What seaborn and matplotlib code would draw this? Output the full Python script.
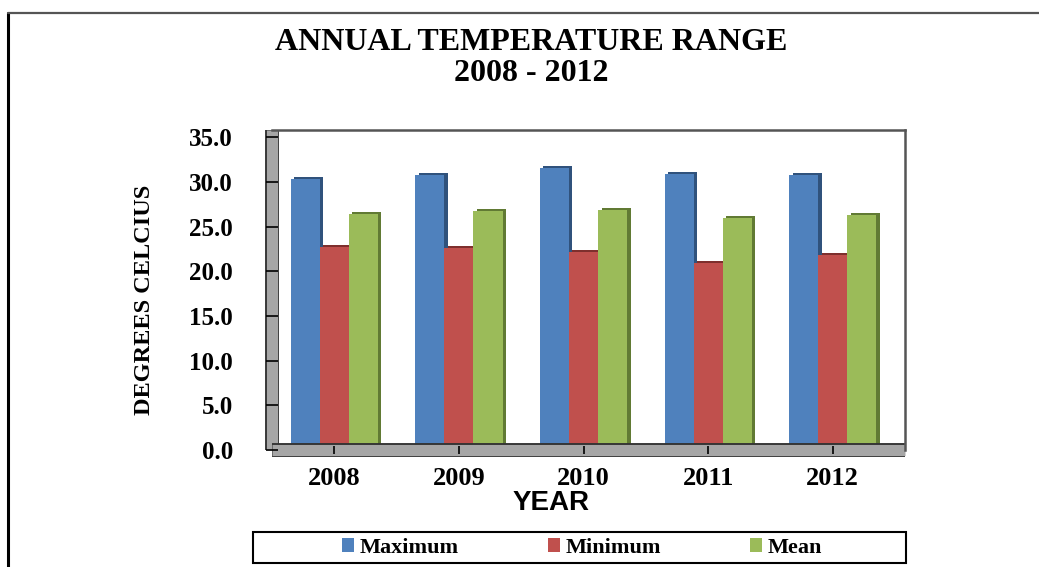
import matplotlib
matplotlib.use("Agg")
import matplotlib.pyplot as plt
import matplotlib.patheffects as pe
from matplotlib.patches import Patch, Rectangle
from matplotlib.lines import Line2D
import seaborn as sns
import pandas as pd

years = ["2008", "2009", "2010", "2011", "2012"]
maximum = [30.3, 30.8, 31.5, 30.9, 30.8]
minimum = [22.7, 22.6, 22.1, 20.9, 21.8]
mean = [26.4, 26.7, 26.8, 25.9, 26.3]
series_names = ["Maximum", "Minimum", "Mean"]
yticks = [0, 5, 10, 15, 20, 25, 30, 35]

colors = {"Maximum": "#4F81BD", "Minimum": "#C0504D", "Mean": "#9BBB59"}
shadow = {"Maximum": "#30527c", "Minimum": "#7e2f2d", "Mean": "#617a34"}

df = pd.DataFrame({
    "Year": years * 3,
    "Series": ["Maximum"] * 5 + ["Minimum"] * 5 + ["Mean"] * 5,
    "Value": maximum + minimum + mean,
})

sns.set_theme(style="white")
plt.rcParams["font.family"] = ["Liberation Serif", "DejaVu Serif"]
plt.rcParams["text.color"] = "black"
plt.rcParams["axes.labelcolor"] = "black"
plt.rcParams["xtick.color"] = "black"
plt.rcParams["ytick.color"] = "black"

fig = plt.figure(figsize=(10.39, 5.67), dpi=100)
ax = fig.add_axes([272 / 1039, 1 - 450 / 567, (905 - 272) / 1039, (450 - 130) / 567])

sns.barplot(data=df, x="Year", y="Value", hue="Series", order=years,
            hue_order=series_names, palette=colors, width=0.7, ax=ax,
            legend=False, saturation=1, edgecolor="none")

# pseudo 3D side shading
for cont, name in zip(ax.containers, series_names):
    for bar in cont:
        bar.set_path_effects([
            pe.SimplePatchShadow(offset=(2.5, 1.5), shadow_rgbFace=shadow[name], alpha=1.0),
            pe.Normal(),
        ])

ax.set_ylim(0, 35.8)
ax.set_xlim(-0.5, 4.58)
ax.set_yticks(yticks)
ax.set_yticklabels([f"{v:.1f}" for v in yticks], fontsize=18, fontweight="bold")
ax.set_xticklabels(years, fontsize=19, fontweight="bold")
ax.set_xlabel("")
ax.set_ylabel("")
ax.tick_params(axis="y", direction="inout", length=8, width=1.2, color="black", pad=24, left=True)
ax.tick_params(axis="x", direction="inout", length=6, width=1.2, color="black", pad=9, bottom=True)
ax.xaxis.set_zorder(3)
ax.yaxis.set_zorder(3)

# walls / floor
for side in ["left", "bottom"]:
    sp = ax.spines[side]
    sp.set_linewidth(8)
    sp.set_color("#a6a6a6")
    sp.set_capstyle("butt")
    sp.set_zorder(2)
    sp.set_path_effects([pe.Stroke(linewidth=10, foreground="#333333", capstyle="butt"), pe.Normal()])
for side in ["top", "right"]:
    ax.spines[side].set_linewidth(1.8)
    ax.spines[side].set_color("#555555")

# titles and labels
fig.text(531 / 1039, 1 - 50 / 567, "ANNUAL TEMPERATURE RANGE", ha="center", va="baseline",
         fontsize=23, fontweight="bold")
fig.text(531 / 1039, 1 - 81 / 567, "2008 - 2012", ha="center", va="baseline",
         fontsize=23, fontweight="bold")
fig.text(145 / 1039, 1 - 300 / 567, "DEGREES CELCIUS", rotation=90, ha="center", va="center",
         fontsize=17.5, fontweight="bold")
fig.text(551 / 1039, 1 - 503 / 567, "YEAR", ha="center", va="center",
         fontsize=20, fontweight="bold", family=["Liberation Sans", "DejaVu Sans"])

# outer frame lines
fig.add_artist(Line2D([8 / 1039, 8 / 1039], [0, 1 - 13 / 567], transform=fig.transFigure,
                      color="black", lw=2.2))
fig.add_artist(Line2D([8 / 1039, 1], [1 - 13 / 567, 1 - 13 / 567], transform=fig.transFigure,
                      color="#555555", lw=1.6))

# legend box
fig.add_artist(Rectangle((253 / 1039, 1 - 563 / 567), (906 - 253) / 1039, 31 / 567,
                         transform=fig.transFigure, facecolor="white", edgecolor="black",
                         lw=1.5))
handles = [Patch(facecolor=colors[n], edgecolor="none", label=n) for n in series_names]
leg = fig.legend(handles=handles, loc="center", ncol=3,
                 bbox_to_anchor=(582 / 1039, 1 - 548 / 567),
                 frameon=False, prop={"weight": "bold", "size": 16},
                 handlelength=0.55, handleheight=0.55, handletextpad=0.25,
                 columnspacing=4.0, borderaxespad=0, borderpad=0)

fig.savefig("out.png", dpi=100, facecolor="white")
